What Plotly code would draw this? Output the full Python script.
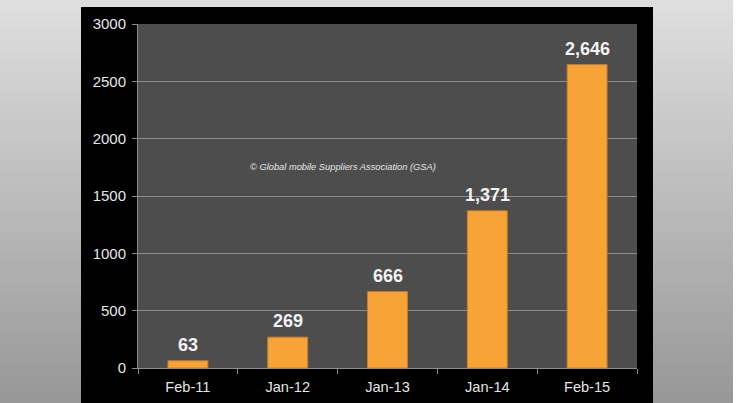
import plotly.graph_objects as go

categories = ["Feb-11", "Jan-12", "Jan-13", "Jan-14", "Feb-15"]
values = [63, 269, 666, 1371, 2646]
value_labels = ["63", "269", "666", "1,371", "2,646"]
y_ticks = [0, 500, 1000, 1500, 2000, 2500, 3000]
credit = "© Global mobile Suppliers Association (GSA)"

W, H = 739, 403
L, R, T, B = 138, 637, 24, 368  # plot area in px

def px_x(px):
    return (px - L) / (R - L)

def px_y(py):
    return (B - py) / (B - T)

shapes = []
# background gradient bands
n = 40
top = (222, 222, 222)
bot = (152, 152, 152)
for i in range(n):
    f = i / (n - 1)
    c = tuple(int(round(top[k] + (bot[k] - top[k]) * f)) for k in range(3))
    y0 = H * i / n
    y1 = H * (i + 1) / n + 0.5
    shapes.append(dict(type="rect", xref="paper", yref="paper",
                       x0=px_x(0), x1=px_x(733), y0=px_y(y1), y1=px_y(y0),
                       fillcolor="rgb(%d,%d,%d)" % c, line=dict(width=0), layer="below"))
# white strip at right
shapes.append(dict(type="rect", xref="paper", yref="paper",
                   x0=px_x(733), x1=px_x(W + 1), y0=px_y(H + 1), y1=px_y(-1),
                   fillcolor="white", line=dict(width=0), layer="below"))
# black panel
shapes.append(dict(type="rect", xref="paper", yref="paper",
                   x0=px_x(81), x1=px_x(653), y0=px_y(H + 1), y1=px_y(7),
                   fillcolor="black", line=dict(width=0), layer="below"))
# plot area background
shapes.append(dict(type="rect", xref="paper", yref="paper",
                   x0=0, x1=1, y0=0, y1=1,
                   fillcolor="#4d4d4d", line=dict(width=0), layer="below"))

fig = go.Figure()
fig.add_trace(go.Bar(
    x=categories, y=values, width=0.4,
    marker=dict(color="#f7a336", line=dict(color="#c77d2a", width=1)),
    hoverinfo="skip",
))

annotations = []
for c, v, t in zip(categories, values, value_labels):
    annotations.append(dict(x=c, y=v, text="<b>%s</b>" % t, showarrow=False,
                            yanchor="bottom", yshift=4,
                            font=dict(family="Liberation Sans, Arial", size=18, color="#f2f2f2")))
annotations.append(dict(xref="paper", yref="paper", x=px_x(343), y=px_y(167),
                        text="<i>%s</i>" % credit, showarrow=False,
                        xanchor="center", yanchor="middle",
                        font=dict(family="Liberation Sans, Arial", size=9.3, color="#e6e6e6")))

fig.update_layout(
    width=W, height=H,
    margin=dict(l=L, r=W - R, t=T, b=H - B, pad=0, autoexpand=False),
    paper_bgcolor="rgb(190,190,190)",
    plot_bgcolor="rgba(0,0,0,0)",
    shapes=shapes,
    annotations=annotations,
    showlegend=False,
    bargap=0.6,
    font=dict(family="Liberation Sans, Arial", size=15, color="#e6e6e6"),
)
fig.update_xaxes(
    type="category", showgrid=False, showline=True, linecolor="#8c8c8c", linewidth=1,
    ticks="outside", tickson="boundaries", ticklen=5, tickcolor="#8c8c8c",
    ticklabelstandoff=5, automargin=False,
    tickfont=dict(size=14.6, color="#e6e6e6"), fixedrange=True,
)
fig.update_yaxes(
    range=[0, 3000], tickvals=y_ticks, showgrid=True, gridcolor="#8c8c8c", gridwidth=1,
    showline=True, linecolor="#8c8c8c", ticks="outside", ticklen=5, tickcolor="#8c8c8c",
    ticklabelstandoff=3, automargin=False,
    zeroline=False, tickfont=dict(size=15, color="#e6e6e6"), fixedrange=True,
)

fig.write_html("out.html", config=dict(displayModeBar=False))
